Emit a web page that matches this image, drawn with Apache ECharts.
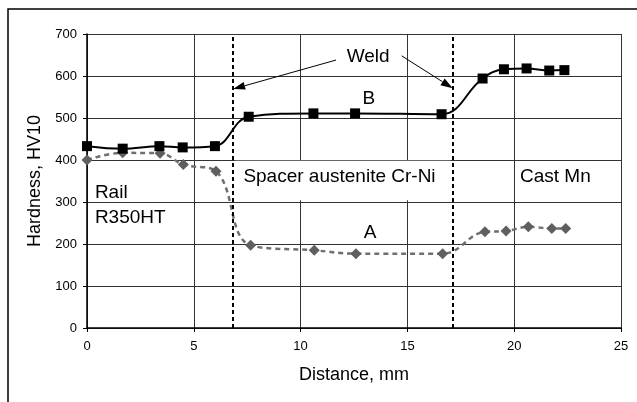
<!DOCTYPE html>
<html><head><meta charset="utf-8">
<script src="https://cdn.jsdelivr.net/npm/echarts@6/dist/echarts.min.js"></script>
<style>html,body{margin:0;padding:0;background:#fff}#c{width:637px;height:402px}</style>
</head><body><div id="c"></div><script>
// ---- data ----
const distB = [0, 1.67, 3.39, 4.48, 5.99, 7.57, 10.6, 12.55, 16.6, 18.52, 19.52, 20.58, 21.64, 22.35];
const hardB = [433, 427, 433, 430, 433, 503, 511, 511, 509, 594, 616, 618, 613, 614];
const distA = [0, 1.67, 3.42, 4.51, 6.04, 7.66, 10.64, 12.59, 16.65, 18.63, 19.62, 20.66, 21.76, 22.41];
const hardA = [400, 417, 416, 389, 373, 197, 185, 177, 177, 229, 231, 241, 237, 237];
const weldX = [6.84, 17.12];
const xTicks = [0, 5, 10, 15, 20, 25];
const yTicks = [0, 100, 200, 300, 400, 500, 600, 700];
const seriesNames = ['B', 'A'];

const FONT = '"Liberation Sans", Arial, sans-serif';
const chart = echarts.init(document.getElementById('c'), null, {renderer: 'canvas'});

const option = {
  animation: false,
  backgroundColor: '#fff',
  grid: {left: 87, top: 34, width: 534, height: 294},
  xAxis: {
    type: 'value', min: xTicks[0], max: xTicks[xTicks.length - 1], interval: 5,
    axisLine: {lineStyle: {color: '#000', width: 1.5}},
    axisTick: {show: true, length: 4, lineStyle: {color: '#000'}},
    axisLabel: {margin: 12, fontSize: 13, color: '#000', fontFamily: FONT},
    splitLine: {show: true, lineStyle: {color: '#333', width: 1}},
    name: 'Distance, mm', nameLocation: 'middle', nameGap: 38,
    nameTextStyle: {fontSize: 18, color: '#000', fontFamily: FONT}
  },
  yAxis: {
    type: 'value', min: yTicks[0], max: yTicks[yTicks.length - 1], interval: 100,
    axisLine: {show: true, lineStyle: {color: '#000', width: 1.5}},
    axisTick: {show: true, length: 4, lineStyle: {color: '#000'}},
    axisLabel: {margin: 10, fontSize: 13, color: '#000', fontFamily: FONT},
    splitLine: {show: true, lineStyle: {color: '#333', width: 1}},
    name: 'Hardness, HV10', nameLocation: 'middle', nameGap: 37,
    nameTextStyle: {fontSize: 18, color: '#000', fontFamily: FONT}
  },
  series: [
    {
      type: 'line', name: seriesNames[0],
      data: distB.map((x, i) => [x, hardB[i]]),
      smooth: 0.4, symbol: 'rect', symbolSize: 10,
      itemStyle: {color: '#000'},
      lineStyle: {color: '#000', width: 2},
      z: 4,
      markLine: {
        silent: true, symbol: ['none', 'none'], label: {show: false},
        lineStyle: {color: '#000', type: [4, 3], width: 2},
        data: weldX.map(x => ({xAxis: x}))
      }
    },
    {
      type: 'line', name: seriesNames[1],
      data: distA.map((x, i) => [x, hardA[i]]),
      smooth: 0.4, symbol: 'diamond', symbolSize: 11,
      itemStyle: {color: '#5f5f5f'},
      lineStyle: {color: '#6f6f6f', width: 2.5, type: [5, 4]},
      z: 3
    }
  ]
};
chart.setOption(option);

const P = (x, y) => chart.convertToPixel({gridIndex: 0}, [x, y]);
function text(str, x, y, align, size) {
  const p = P(x, y);
  return {type: 'text', x: p[0], y: p[1], z: 20,
    style: {text: str, font: size + 'px ' + FONT, fill: '#000', align: align, verticalAlign: 'middle'}};
}
function arrow(x0, y0, x1, y1) {
  const a = P(x0, y0), b = P(x1, y1);
  const dx = b[0] - a[0], dy = b[1] - a[1], L = Math.hypot(dx, dy);
  const ux = dx / L, uy = dy / L, hl = 12, hw = 4;
  const bx = b[0] - ux * hl, by = b[1] - uy * hl;
  return [
    {type: 'line', z: 20, shape: {x1: a[0], y1: a[1], x2: bx, y2: by}, style: {stroke: '#000', lineWidth: 1}},
    {type: 'polygon', z: 20, shape: {points: [[b[0], b[1]], [bx - uy * hw, by + ux * hw], [bx + uy * hw, by - ux * hw]]}, style: {fill: '#000'}}
  ];
}
const w0 = P(weldX[0], 398), w1 = P(weldX[1], 304);
const graphics = [
  {type: 'rect', z: 0, shape: {x: 8, y: 9, width: 700, height: 500}, style: {fill: 'none', stroke: '#000', lineWidth: 1.5}},
  {type: 'rect', z: 1, shape: {x: w0[0] + 2, y: w0[1], width: w1[0] - w0[0] - 4, height: w1[1] - w0[1]}, style: {fill: '#fff'}},
  text('Weld', 13.16, 645, 'center', 19),
  text('B', 13.2, 545, 'center', 19),
  text('A', 13.25, 226, 'center', 19),
  text('Spacer austenite Cr-Ni', 11.82, 359, 'center', 19),
  text('Rail', 0.37, 322, 'left', 19),
  text('R350HT', 0.37, 263, 'left', 19),
  text('Cast Mn', 20.27, 360, 'left', 19)
].concat(arrow(11.66, 638, weldX[0], 569), arrow(14.73, 648, weldX[1], 571));
chart.setOption({graphic: {elements: graphics}});
</script></body></html>
